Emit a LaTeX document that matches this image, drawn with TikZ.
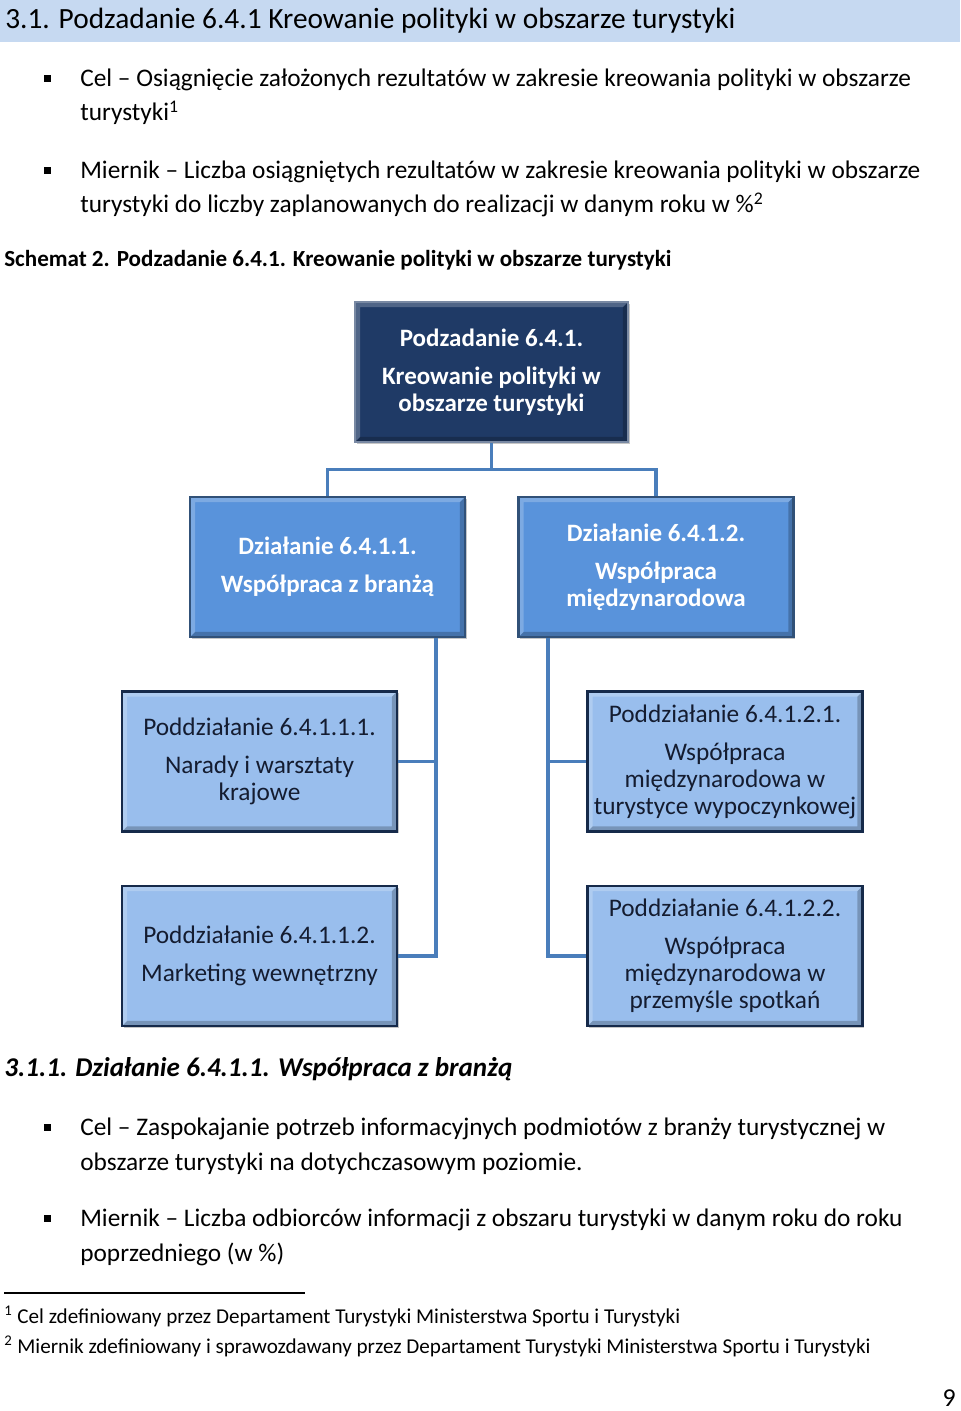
\documentclass[tikz,border=0pt]{standalone}
\usepackage{fontspec}
\setmainfont{Carlito}
\usetikzlibrary{positioning,shadows}
\newlength\px
\setlength\px{0.62pt}
\definecolor{headblue}{RGB}{198,217,241}
\definecolor{navybox}{RGB}{31,58,102}
\definecolor{midbox}{RGB}{89,147,219}
\definecolor{lightbox}{RGB}{153,190,237}
\definecolor{edgeblue}{RGB}{22,42,74}
\definecolor{linkblue}{RGB}{74,126,187}
\definecolor{inktext}{RGB}{20,28,48}

\begin{document}
\begin{tikzpicture}[x=\px,y=-\px,
  txt/.style={anchor=base west,inner sep=0pt,font=\fontsize{15.7}{19}\selectfont},
  bul/.style={rectangle,fill=black,minimum size=7\px,inner sep=0pt},
  box/.style={rectangle,minimum width=275\px,minimum height=140\px,inner sep=0pt,
              align=center,draw=edgeblue,line width=1.3pt,
              drop shadow={shadow xshift=1.2pt,shadow yshift=-1.2pt,opacity=.45},
              path picture={
                \coordinate (nw) at (path picture bounding box.north west);
                \coordinate (ne) at (path picture bounding box.north east);
                \coordinate (sw) at (path picture bounding box.south west);
                \coordinate (se) at (path picture bounding box.south east);
                \fill[white,opacity=.22] (nw) -- (ne) -- ([shift={(-3.2pt,-3.2pt)}]ne)
                  -- ([shift={(3.2pt,-3.2pt)}]nw) -- ([shift={(3.2pt,3.2pt)}]sw) -- (sw) -- cycle;
                \fill[black,opacity=.22] (se) -- (ne) -- ([shift={(-3.2pt,-3.2pt)}]ne)
                  -- ([shift={(-3.2pt,3.2pt)}]se) -- ([shift={(3.2pt,3.2pt)}]sw) -- (sw) -- cycle;}},
  topbox/.style={box,fill=navybox,draw=navybox!60!white,text=white,
                 font=\bfseries\fontsize{15.5}{16.7}\selectfont},
  actbox/.style={box,fill=midbox,draw=midbox!55!black,text=white,
                 font=\bfseries\fontsize{15.5}{16.7}\selectfont},
  subbox/.style={box,fill=lightbox,text=inktext,
                 font=\fontsize{15.7}{16.7}\selectfont},
  link/.style={draw=linkblue,line width=1.9pt}]
\useasboundingbox (0,0) rectangle (960,1411);

% naglowek
\fill[headblue] (0,0) rectangle (960,42);
\node[txt,font=\fontsize{18.2}{21}\selectfont] (head) at (5,29)
  {3.1. Podzadanie 6.4.1 Kreowanie polityki w obszarze turystyki};

\node[bul] (b1) at (47,79) {};
\node[txt] (cel1) at (80,87)
  {Cel -- Osiągnięcie założonych rezultatów w zakresie kreowania polityki w obszarze};
\node[txt] (cel1b) at (80,121) {turystyki\textsuperscript{1}};
\node[bul] (b2) at (47,171) {};
\node[txt] (mier1) at (80,179)
  {Miernik -- Liczba osiągniętych rezultatów w zakresie kreowania polityki w obszarze};
\node[txt] (mier1b) at (80,213)
  {turystyki do liczby zaplanowanych do realizacji w danym roku w \%\textsuperscript{2}};

\node[txt,font=\bfseries\fontsize{14.3}{17}\selectfont] (schem) at (4,267)
  {Schemat 2. Podzadanie 6.4.1. Kreowanie polityki w obszarze turystyki};

% schemat
\node[topbox,minimum width=273\px] (top) at (491.5,372)
  {Podzadanie 6.4.1.\\[7pt] Kreowanie polityki w\\ obszarze turystyki};
\node[actbox] (act1) at (327.5,567)
  {Działanie 6.4.1.1.\\[7pt] Współpraca z branżą};
\node[actbox] (act2) at (656,567)
  {Działanie 6.4.1.2.\\[7pt] Współpraca\\ międzynarodowa};
\node[subbox] (sub11) at (259.5,761.5)
  {Poddziałanie 6.4.1.1.1.\\[7pt] Narady i warsztaty\\ krajowe};
\node[subbox] (sub12) at (259.5,956)
  {Poddziałanie 6.4.1.1.2.\\[7pt] Marketing wewnętrzny};
\node[subbox] (sub21) at (725,761.5)
  {Poddziałanie 6.4.1.2.1.\\[7pt] Współpraca\\ międzynarodowa w\\ turystyce wypoczynkowej};
\node[subbox] (sub22) at (725,956)
  {Poddziałanie 6.4.1.2.2.\\[7pt] Współpraca\\ międzynarodowa w\\ przemyśle spotkań};

\draw[link] (top.south) -- ++(0,26) -| (act1.north);
\draw[link] (top.south) ++(0,26) -| (act2.north);
\draw[link] ([xshift=108.5\px]act1.south) |- (sub11.east);
\draw[link] ([xshift=108.5\px]act1.south) |- (sub12.east);
\draw[link] ([xshift=-108\px]act2.south) |- (sub21.west);
\draw[link] ([xshift=-108\px]act2.south) |- (sub22.west);

% dzialanie 6.4.1.1
\node[txt,font=\bfseries\itshape\fontsize{16.8}{20}\selectfont] (head2) at (4,1076)
  {3.1.1. Działanie 6.4.1.1. Współpraca z branżą};
\node[bul] (b3) at (47,1127) {};
\node[txt] (cel2) at (80,1135)
  {Cel -- Zaspokajanie potrzeb informacyjnych podmiotów z branży turystycznej w};
\node[txt] (cel2b) at (80,1170) {obszarze turystyki na dotychczasowym poziomie.};
\node[bul] (b4) at (47,1218) {};
\node[txt] (mier2) at (80,1226)
  {Miernik -- Liczba odbiorców informacji z obszaru turystyki w danym roku do roku};
\node[txt] (mier2b) at (80,1261) {poprzedniego (w \%)};

% przypisy
\draw[line width=0.8pt] (4,1293) -- (305,1293);
\node[txt,font=\fontsize{13.1}{15}\selectfont] (fn1) at (4,1323)
  {\textsuperscript{1} Cel zdefiniowany przez Departament Turystyki Ministerstwa Sportu i Turystyki};
\node[txt,font=\fontsize{13.1}{15}\selectfont] (fn2) at (4,1353)
  {\textsuperscript{2} Miernik zdefiniowany i sprawozdawany przez Departament Turystyki Ministerstwa Sportu i Turystyki};
\node[txt,font=\fontsize{16}{19}\selectfont,anchor=base east] (page) at (956,1406) {9};
\end{tikzpicture}
\end{document}
